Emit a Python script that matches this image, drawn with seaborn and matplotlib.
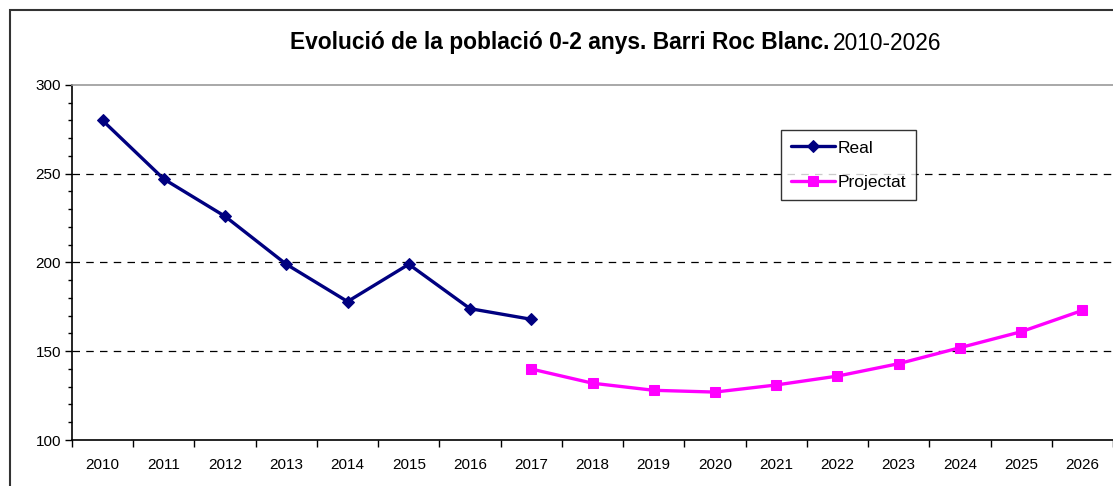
import numpy as np
import pandas as pd
import matplotlib
matplotlib.use("Agg")
import matplotlib.pyplot as plt
import seaborn as sns
from matplotlib.patches import Rectangle
from matplotlib.ticker import MultipleLocator, FixedLocator

# dades llegides del gràfic
anys_real = [2010, 2011, 2012, 2013, 2014, 2015, 2016, 2017]
real = [280, 247, 226, 199, 178, 199, 174, 168]

anys_proj = [2017, 2018, 2019, 2020, 2021, 2022, 2023, 2024, 2025, 2026]
projectat = [140, 132, 128, 127, 131, 136, 143, 152, 161, 173]

anys = list(range(2010, 2027))

sns.set_style("white")
plt.rcParams["font.family"] = ["Liberation Sans", "DejaVu Sans"]
plt.rcParams["text.color"] = "black"
plt.rcParams["xtick.color"] = "black"
plt.rcParams["ytick.color"] = "black"

fig = plt.figure(figsize=(11.13, 4.86), dpi=100)
ax = fig.add_axes([72 / 1113, 46 / 486, 1041 / 1113, 355 / 486])

df_real = pd.DataFrame({"any": anys_real, "valor": real})
df_proj = pd.DataFrame({"any": anys_proj, "valor": projectat})

sns.lineplot(data=df_real, x="any", y="valor", ax=ax, color="#000080",
             marker="D", markersize=6, markeredgecolor="#000080",
             linewidth=2.4, label="Real")
sns.lineplot(data=df_proj, x="any", y="valor", ax=ax, color="#FF00FF",
             marker="s", markersize=7, markeredgecolor="#FF00FF",
             linewidth=2.4, label="Projectat")

ax.set_xlim(2009.5, 2026.5)
ax.set_ylim(100, 300)
ax.set_xlabel("")
ax.set_ylabel("")

# eix X: marques entre categories, etiquetes al centre
ax.xaxis.set_major_locator(FixedLocator(np.arange(2009.5, 2027, 1)))
ax.xaxis.set_minor_locator(FixedLocator(anys))
ax.set_xticklabels([])
ax.set_xticklabels([str(a) for a in anys], minor=True)
ax.tick_params(axis="x", which="major", direction="out", length=5, width=1,
               color="black", bottom=True)
ax.tick_params(axis="x", which="minor", length=0, pad=13, labelsize=11)

ax.yaxis.set_major_locator(MultipleLocator(50))
ax.yaxis.set_minor_locator(MultipleLocator(10))
ax.tick_params(axis="y", which="major", direction="out", length=5, width=1,
               color="black", left=True, labelsize=11, pad=3)
ax.tick_params(axis="y", which="minor", direction="out", length=3, width=1,
               color="black", left=True)

for y in [150, 200, 250]:
    ax.axhline(y, color="black", linestyle=(0, (6, 5)), linewidth=0.9, zorder=0)

ax.spines["left"].set_color("black")
ax.spines["bottom"].set_color("black")
ax.spines["left"].set_linewidth(1.2)
ax.spines["bottom"].set_linewidth(1.2)
ax.spines["top"].set_color("#999999")
ax.spines["top"].set_linewidth(1.2)
ax.spines["right"].set_visible(False)

leg = ax.legend(loc="upper left", bbox_to_anchor=(781 / 1113, 1 - 130 / 486),
                bbox_transform=fig.transFigure, frameon=True, fancybox=False,
                shadow=False, fontsize=12.5, handlelength=2.5, borderpad=0.6,
                labelspacing=1.1, handletextpad=0.15, borderaxespad=0)
leg.get_frame().set_edgecolor("black")
leg.get_frame().set_linewidth(1)

# títol amb part en negreta
fig.text(829 / 1113, 1 - 43 / 486, "Evolució de la població 0-2 anys. Barri Roc Blanc.",
         ha="right", va="center", fontsize=16.4, fontweight="bold")
fig.text(833 / 1113, 1 - 43 / 486, "2010-2026", ha="left", va="center", fontsize=16.4)

# marc exterior
fig.patches.append(Rectangle((10 / 1113, -0.1), 1.2, 1.1 - 10 / 486,
                             transform=fig.transFigure, fill=False,
                             edgecolor="#333333", linewidth=1.5))

fig.savefig("out.png", dpi=100)
